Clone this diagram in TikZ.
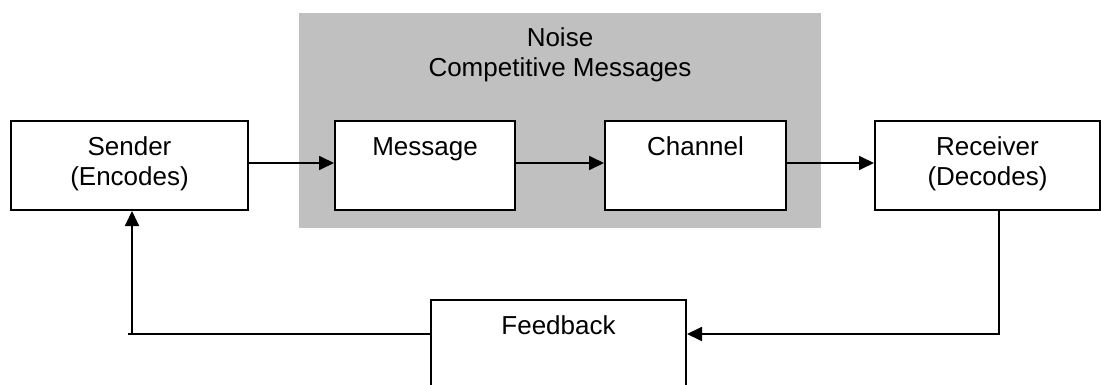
\documentclass[tikz,border=0pt]{standalone}
\usepackage{fontspec}
\setmainfont{Liberation Sans}
\usetikzlibrary{arrows.meta}
\definecolor{noisegray}{RGB}{192,192,192}
\pgfdeclarelayer{shade}
\pgfdeclarelayer{links}
\pgfsetlayers{shade,links,main}
\tikzset{
  stagebox/.style={draw=black, line width=2pt, fill=white, inner sep=0pt},
  boxtext/.style={anchor=north, inner sep=0pt, align=center,
    font=\fontsize{26}{30}\selectfont},
  link/.style={line width=1.8pt},
  flow/.style={link, -{Triangle[length=15pt,width=14pt]}}
}
\begin{document}
\begin{tikzpicture}[x=1pt, y=1pt]
  \useasboundingbox (0,0) rectangle (1101,-385);
  \clip (0,0) rectangle (1101,-385);

  % shaded area for noise / competitive messages
  \begin{pgfonlayer}{shade}
    \node[fill=noisegray, inner sep=0pt, minimum width=522pt, minimum height=215pt]
      (noise) at (560,-120.5) {};
  \end{pgfonlayer}
  \node[boxtext] (noiselbl) at ([yshift=-13pt]noise.north)
    {\strut Noise\\\strut Competitive Messages};

  % stages of the communication process
  \node[stagebox, minimum width=237pt, minimum height=89pt] (sender) at (129.5,-165.5) {};
  \node[stagebox, minimum width=180pt, minimum height=89pt] (message) at (425,-165.5) {};
  \node[stagebox, minimum width=181pt, minimum height=89pt] (channel) at (695.5,-165.5) {};
  \node[stagebox, minimum width=225pt, minimum height=89pt] (receiver) at (987.5,-165.5) {};
  \node[stagebox, minimum width=255pt, minimum height=95pt] (feedback) at (558.5,-347.5) {};

  \node[boxtext] (senderlbl) at ([yshift=-14.5pt]sender.north) {\strut Sender\\\strut (Encodes)};
  \node[boxtext] (messagelbl) at ([yshift=-14.5pt]message.north) {\strut Message};
  \node[boxtext] (channellbl) at ([yshift=-14.5pt]channel.north) {\strut Channel};
  \node[boxtext] (receiverlbl) at ([yshift=-14.5pt]receiver.north) {\strut Receiver\\\strut (Decodes)};
  \node[boxtext] (feedbacklbl) at ([yshift=-14pt]feedback.north) {\strut Feedback};

  % corner where the feedback path turns up towards the sender
  \coordinate (loopcorner) at ([xshift=2.5pt]sender.south |- feedback.west);

  % forward flow
  \draw[flow] ([yshift=2.5pt]sender.east) -- ([yshift=2.5pt]message.west);
  \draw[flow] ([yshift=2.5pt]message.east) -- ([yshift=2.5pt]channel.west);
  \draw[flow] ([yshift=2.5pt]channel.east) -- ([yshift=2.5pt]receiver.west);

  % feedback loop
  \draw[flow] ([xshift=11.5pt]receiver.south) |- ([yshift=13.5pt]feedback.east);
  \begin{pgfonlayer}{links}
    \draw[link] ([yshift=13.5pt]feedback.center) -- ([xshift=-4pt,yshift=13.5pt]loopcorner);
  \end{pgfonlayer}
  \draw[flow] ([yshift=13.5pt]loopcorner) -- ([xshift=2.5pt]sender.south);
\end{tikzpicture}
\end{document}
